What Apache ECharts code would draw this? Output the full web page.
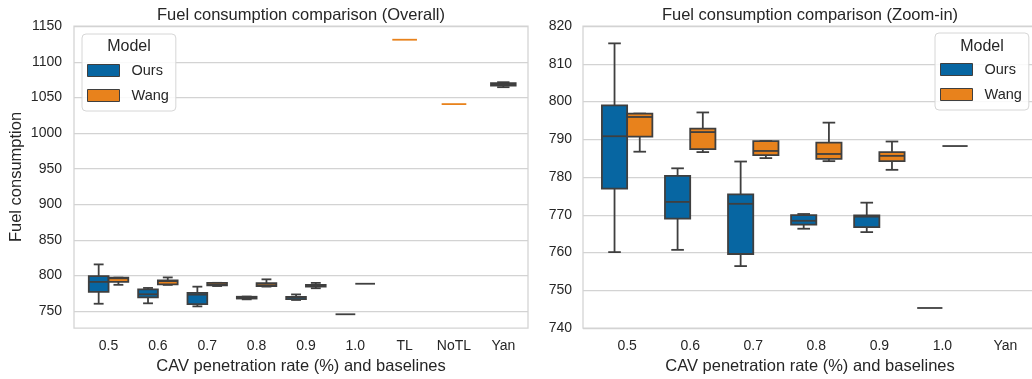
<!DOCTYPE html>
<html>
<head>
<meta charset="utf-8">
<script src="https://cdn.jsdelivr.net/npm/echarts@6/dist/echarts.min.js"></script>
<style>
html,body{margin:0;padding:0;background:#fff;}
#chart{width:1032px;height:379px;}
</style>
</head>
<body>
<div id="chart"></div>
<script>
// ---------------- DATA ----------------
const rates = ['0.5', '0.6', '0.7', '0.8', '0.9', '1.0'];
const baselines = ['TL', 'NoTL', 'Yan'];
const overallCats = rates.concat(baselines);
const zoomCats = rates.concat(['Yan']);

// [min, Q1, median, Q3, max]
const ours = [
  [760.1, 776.9, 790.8, 799.0, 815.4],
  [760.7, 769.0, 773.4, 780.3, 782.3],
  [756.4, 759.6, 772.9, 775.4, 784.1],
  [766.3, 767.4, 768.4, 769.9, 770.2],
  [765.4, 766.7, 769.5, 769.8, 773.2],
  [745.3, 745.3, 745.3, 745.3, 745.3]
];
const wang = [
  [786.7, 790.7, 795.9, 796.8, 796.8],
  [786.6, 787.4, 791.9, 792.8, 797.1],
  [785.0, 785.8, 786.9, 789.5, 789.5],
  [784.2, 784.8, 786.1, 789.1, 794.4],
  [781.9, 784.2, 785.6, 786.6, 789.4],
  [788.2, 788.2, 788.2, 788.2, 788.2]
];
const wangBaselines = [
  [1131.2, 1131.2, 1131.2, 1131.2, 1131.2],
  [1040.7, 1040.7, 1040.7, 1040.7, 1040.7],
  [1064.5, 1066.8, 1068.5, 1070.3, 1071.5]
];
const overallTicks = [750, 800, 850, 900, 950, 1000, 1050, 1100, 1150];

// ---------------- STYLE ----------------
const BLUE = '#0766a2';
const ORANGE = '#e8821c';
const EDGE = '#3f3f3f';
const TEXT = '#262626';
const GRIDC = '#d3d3d3';
const FONT = '"Liberation Sans", Arial, sans-serif';
const DODGE = 0.2;

function withX(rows, offset) {
  return rows.map((r, i) => [i + offset].concat(r));
}

function makeRender(boxUnits, degenerateColor) {
  return function (params, api) {
    const x = api.value(0);
    const v = [1, 2, 3, 4, 5].map(i => api.value(i));
    const half = api.size([boxUnits, 0])[0] / 2;
    const cap = half / 2;
    const pt = val => api.coord([x, val]);
    const pMin = pt(v[0]), pQ1 = pt(v[1]), pMed = pt(v[2]), pQ3 = pt(v[3]), pMax = pt(v[4]);
    const cx = pMin[0];
    const fill = api.visual('color');
    const lw = 1.8;
    const ch = [];
    const line = (x1, y1, x2, y2, c) => ({
      type: 'line', shape: { x1, y1, x2, y2 },
      style: { stroke: c || EDGE, lineWidth: lw, lineCap: 'butt' }
    });
    if (v[0] === v[4]) {
      ch.push(line(cx - half, pMin[1], cx + half, pMin[1], degenerateColor));
    } else {
      ch.push(line(cx, pMax[1], cx, pQ3[1]));
      ch.push(line(cx, pQ1[1], cx, pMin[1]));
      ch.push(line(cx - cap, pMax[1], cx + cap, pMax[1]));
      ch.push(line(cx - cap, pMin[1], cx + cap, pMin[1]));
      ch.push({
        type: 'rect',
        shape: { x: cx - half, y: pQ3[1], width: 2 * half, height: pQ1[1] - pQ3[1] },
        style: { fill: fill, stroke: EDGE, lineWidth: lw }
      });
      ch.push(line(cx - half, pMed[1], cx + half, pMed[1]));
    }
    return { type: 'group', children: ch };
  };
}

function xAxisFor(gridIndex, cats) {
  return {
    type: 'value', gridIndex: gridIndex,
    min: -0.7, max: cats.length - 0.5,
    axisLine: { show: false }, axisTick: { show: false },
    splitLine: { show: false },
    axisLabel: {
      customValues: cats.map((c, i) => i),
      formatter: v => cats[Math.round(v)],
      color: TEXT, fontSize: 14, fontFamily: FONT, margin: 11
    },
    name: 'CAV penetration rate (%) and baselines',
    nameLocation: 'middle', nameGap: 29,
    nameTextStyle: { color: TEXT, fontSize: 16.5, fontFamily: FONT }
  };
}

function legendAt(left, top) {
  return {
    data: ['Ours', 'Wang'], orient: 'vertical', left: left, top: top,
    icon: 'rect', itemWidth: 32, itemHeight: 12, itemGap: 10,
    padding: [29, 7, 8, 5],
    backgroundColor: 'rgba(255,255,255,0.85)',
    borderColor: '#d6d6d6', borderWidth: 1, borderRadius: 4,
    selectedMode: false,
    itemStyle: { borderColor: EDGE, borderWidth: 1 },
    textStyle: { color: TEXT, fontSize: 14.5, fontFamily: FONT, lineHeight: 12, padding: [0, 0, 0, 7] }
  };
}

const chart = echarts.init(document.getElementById('chart'), null, { renderer: 'canvas' });
chart.setOption({
  animation: false,
  backgroundColor: '#ffffff',
  textStyle: { fontFamily: FONT },
  grid: [
    { left: 74, top: 26, width: 454, height: 302, show: true, borderColor: GRIDC, borderWidth: 1.25, backgroundColor: '#fff', containLabel: false, outerBoundsMode: 'none' },
    { left: 583, top: 26, width: 454, height: 302, show: true, borderColor: GRIDC, borderWidth: 1.25, backgroundColor: '#fff', containLabel: false, outerBoundsMode: 'none' }
  ],
  xAxis: [xAxisFor(0, overallCats), xAxisFor(1, zoomCats)],
  yAxis: [
    {
      type: 'value', gridIndex: 0, min: 726, max: 1150.5,
      axisLine: { show: false },
      axisTick: { show: false, customValues: overallTicks },
      axisLabel: { customValues: overallTicks, formatter: v => String(v), color: TEXT, fontSize: 14, fontFamily: FONT, margin: 12 },
      splitLine: { show: true, lineStyle: { color: GRIDC, width: 1.25 } },
      name: 'Fuel consumption', nameLocation: 'middle', nameGap: 49,
      nameTextStyle: { color: TEXT, fontSize: 16.5, fontFamily: FONT }
    },
    {
      type: 'value', gridIndex: 1, min: 740, max: 820, interval: 10,
      axisLine: { show: false }, axisTick: { show: false },
      axisLabel: { formatter: v => String(v), color: TEXT, fontSize: 14, fontFamily: FONT, margin: 11 },
      splitLine: { show: true, lineStyle: { color: GRIDC, width: 1.25 } }
    }
  ],
  legend: [legendAt(82, 34), legendAt(935, 33)],
  graphic: [
    { type: 'text', x: 301, y: 15.5, style: { text: 'Fuel consumption comparison (Overall)', fill: TEXT, font: '16.5px ' + FONT, align: 'center', verticalAlign: 'middle', textAlign: 'center', textVerticalAlign: 'middle' } },
    { type: 'text', x: 810, y: 15.5, style: { text: 'Fuel consumption comparison (Zoom-in)', fill: TEXT, font: '16.5px ' + FONT, align: 'center', verticalAlign: 'middle', textAlign: 'center', textVerticalAlign: 'middle' } },
    { type: 'text', x: 129, y: 46.5, z: 100, style: { text: 'Model', fill: TEXT, font: '16px ' + FONT, align: 'center', verticalAlign: 'middle', textAlign: 'center', textVerticalAlign: 'middle' } },
    { type: 'text', x: 982, y: 46.5, z: 100, style: { text: 'Model', fill: TEXT, font: '16px ' + FONT, align: 'center', verticalAlign: 'middle', textAlign: 'center', textVerticalAlign: 'middle' } }
  ],
  series: [
    { name: 'Ours', type: 'custom', xAxisIndex: 0, yAxisIndex: 0, itemStyle: { color: BLUE, borderColor: EDGE }, renderItem: makeRender(0.4), data: withX(ours, -DODGE), encode: { x: 0, y: [1, 2, 3, 4, 5] } },
    { name: 'Wang', type: 'custom', xAxisIndex: 0, yAxisIndex: 0, itemStyle: { color: ORANGE, borderColor: EDGE }, renderItem: makeRender(0.4), data: withX(wang, DODGE), encode: { x: 0, y: [1, 2, 3, 4, 5] } },
    { name: 'Wang', type: 'custom', xAxisIndex: 0, yAxisIndex: 0, itemStyle: { color: ORANGE, borderColor: EDGE }, renderItem: makeRender(0.5, ORANGE), data: withX(wangBaselines, rates.length), encode: { x: 0, y: [1, 2, 3, 4, 5] } },
    { name: 'Ours', type: 'custom', xAxisIndex: 1, yAxisIndex: 1, itemStyle: { color: BLUE, borderColor: EDGE }, renderItem: makeRender(0.4), data: withX(ours, -DODGE), encode: { x: 0, y: [1, 2, 3, 4, 5] } },
    { name: 'Wang', type: 'custom', xAxisIndex: 1, yAxisIndex: 1, itemStyle: { color: ORANGE, borderColor: EDGE }, renderItem: makeRender(0.4), data: withX(wang, DODGE), encode: { x: 0, y: [1, 2, 3, 4, 5] } }
  ]
});
</script>
</body>
</html>
